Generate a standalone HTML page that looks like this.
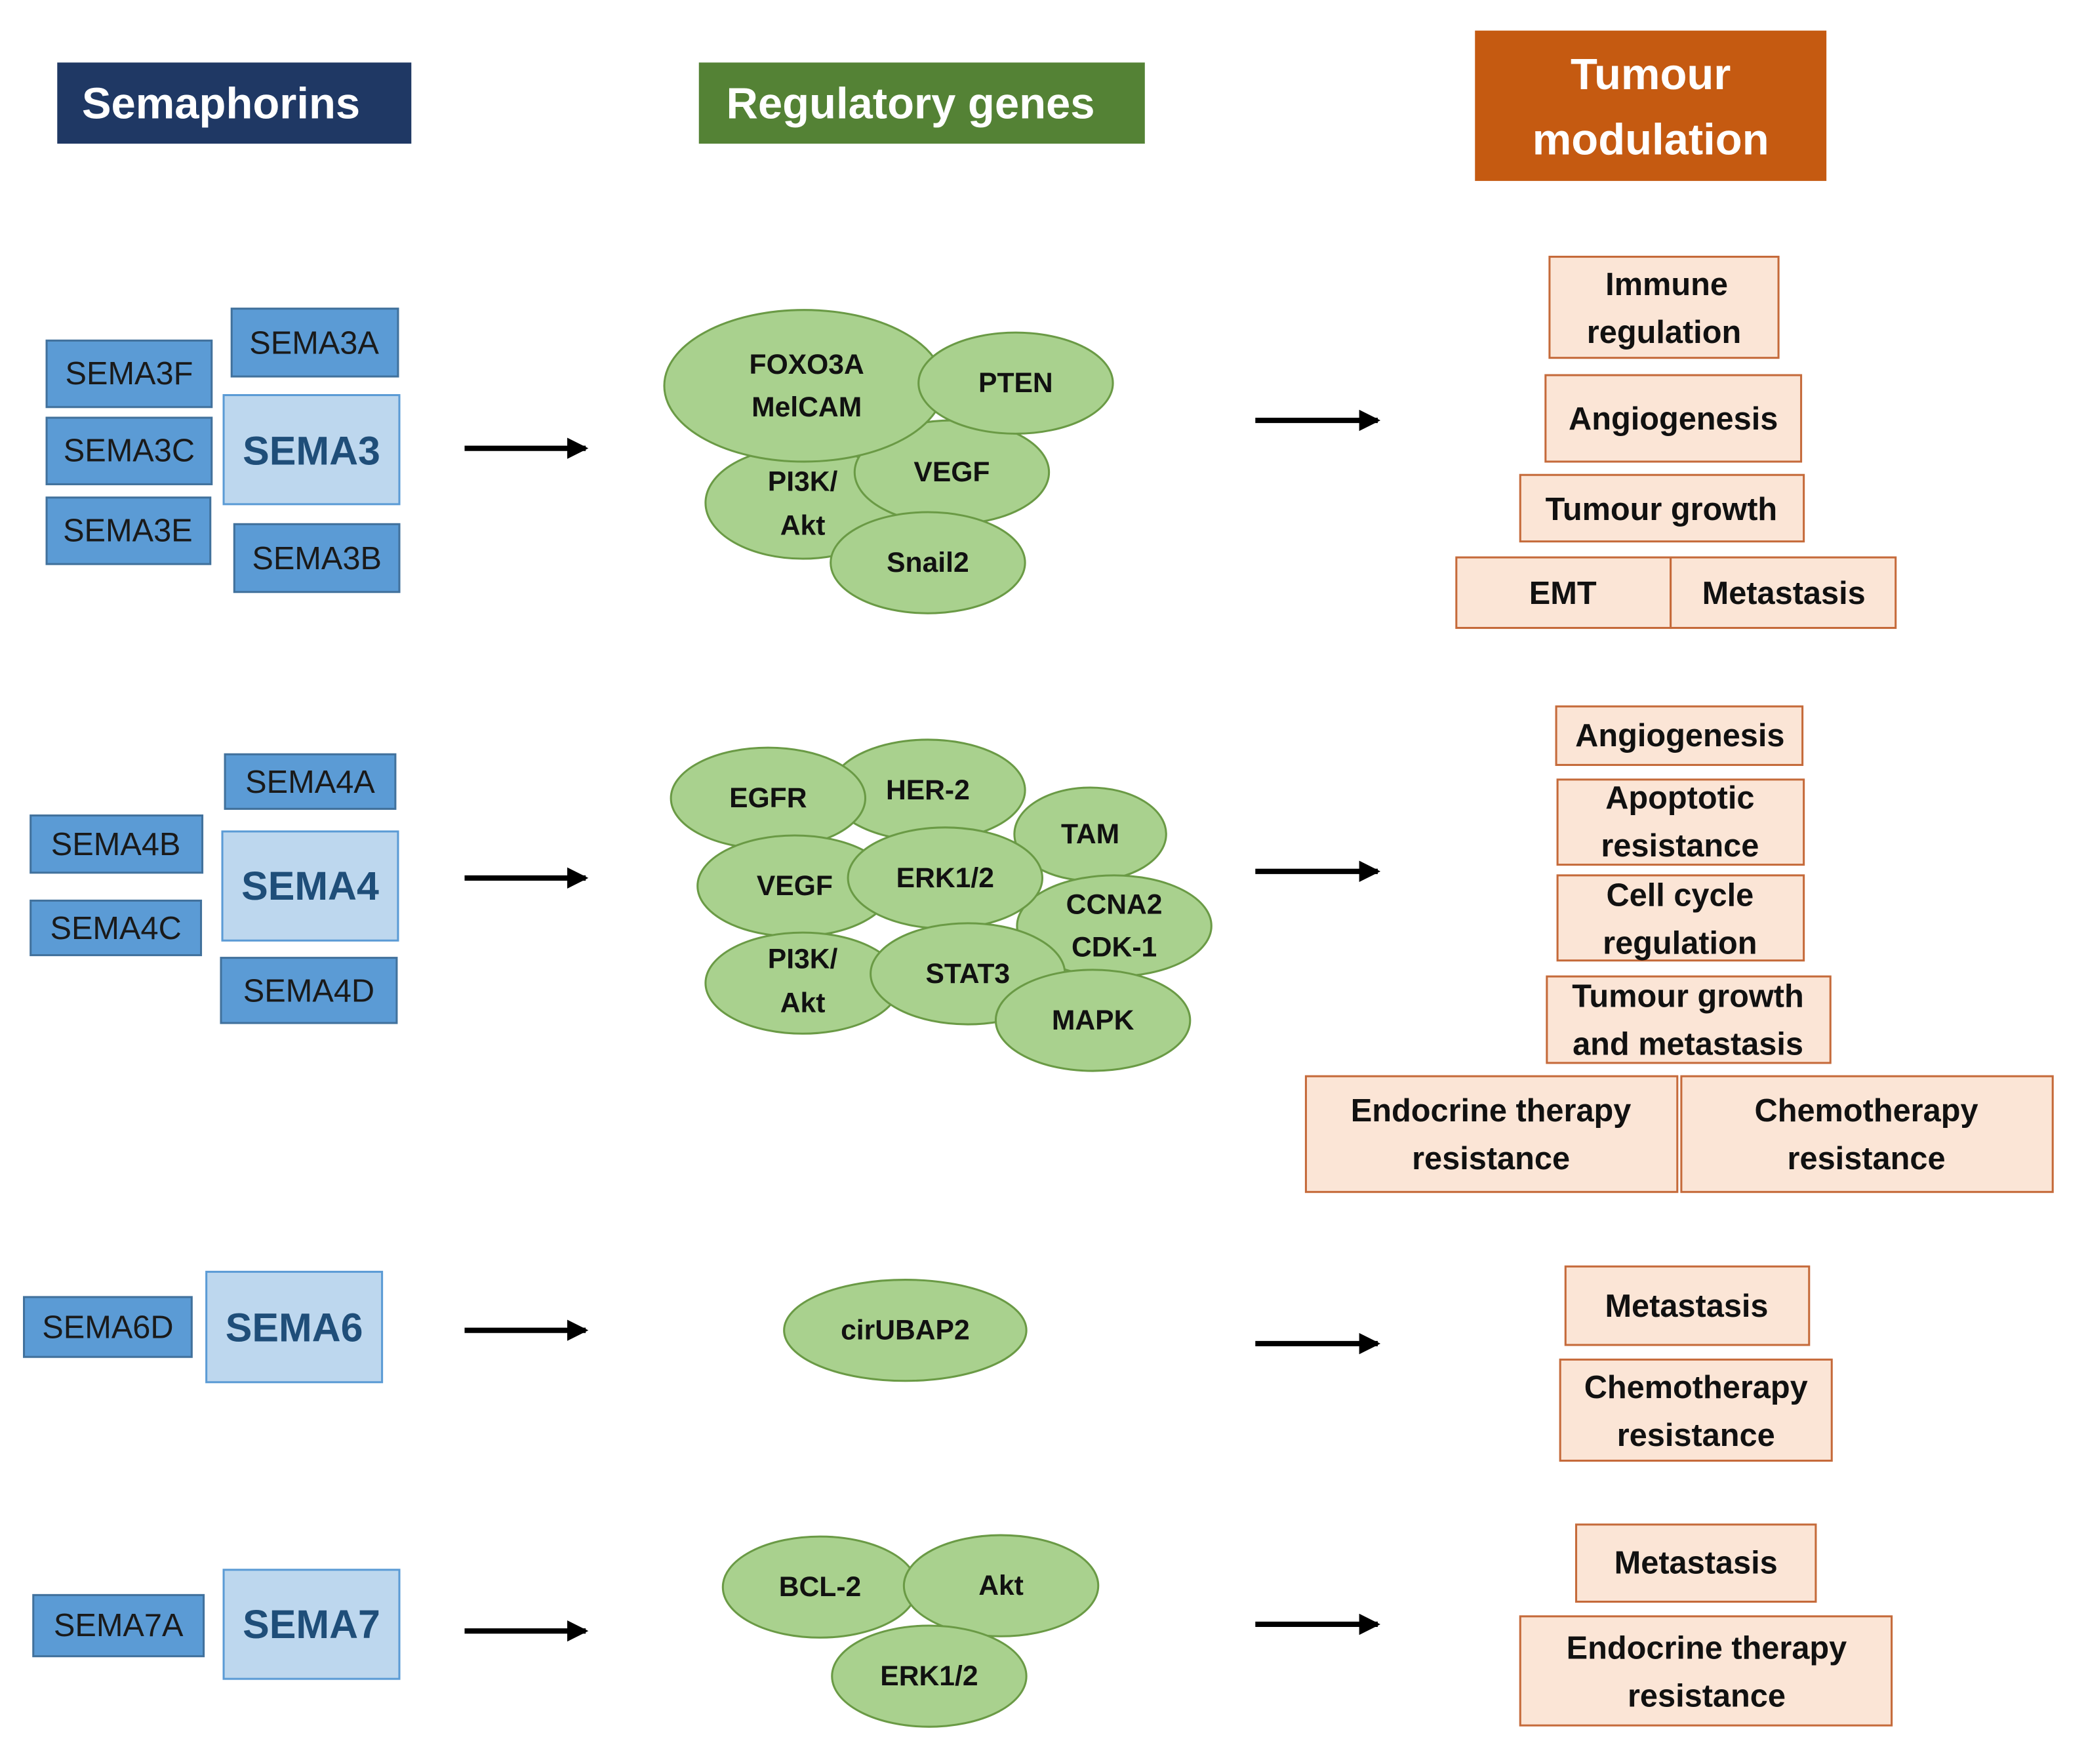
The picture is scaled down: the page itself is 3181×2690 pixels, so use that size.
<!DOCTYPE html>
<html><head><style>html,body{margin:0;padding:0;background:#fff}svg{display:block}
text{font-family:"Liberation Sans",sans-serif;text-anchor:middle;dominant-baseline:central}
.h{fill:#fff;font-weight:bold;font-size:33px}
.b{fill:#5b9bd5;stroke:#41719c;stroke-width:1.5}
.bt{font-size:24px;fill:#1a1a1a}
.L{fill:#bdd7ee;stroke:#5b9bd5;stroke-width:1.5}
.Lt{font-size:30px;fill:#1f4e79;font-weight:bold}
.e{fill:#a9d18e;stroke:#6a9a45;stroke-width:1.5}
.et{font-size:21px;font-weight:bold;fill:#111}
.o{fill:#fbe5d6;stroke:#c56a3a;stroke-width:1.5}
.ot{font-size:24px;font-weight:bold;fill:#111}
</style></head><body>
<svg width="3181" height="2690" viewBox="0 0 1567 1326" preserveAspectRatio="none" xmlns="http://www.w3.org/2000/svg">
<defs><marker id="a" markerWidth="4" markerHeight="4" refX="3.5" refY="2" orient="auto" markerUnits="strokeWidth"><path d="M0,0 L4,2 L0,4 z" fill="#000"/></marker></defs>
<rect x="43" y="47" width="266" height="61" fill="#1f3864"/><text class="h" x="166" y="78">Semaphorins</text>
<rect x="525" y="47" width="335" height="61" fill="#548235"/><text class="h" x="684" y="78">Regulatory genes</text>
<rect x="1108" y="23" width="264" height="113" fill="#c55a11"/><text class="h" x="1240" y="56">Tumour</text><text class="h" x="1240" y="105">modulation</text>

<rect class="b" x="35" y="256" width="124" height="50"/><text class="bt" x="97" y="281">SEMA3F</text>
<rect class="b" x="174" y="232" width="125" height="51"/><text class="bt" x="236" y="258">SEMA3A</text>
<rect class="L" x="168" y="297" width="132" height="82"/><text class="Lt" x="234" y="339">SEMA3</text>
<rect class="b" x="35" y="314" width="124" height="50"/><text class="bt" x="97" y="339">SEMA3C</text>
<rect class="b" x="35" y="374" width="123" height="50"/><text class="bt" x="96" y="399">SEMA3E</text>
<rect class="b" x="176" y="394" width="124" height="51"/><text class="bt" x="238" y="420">SEMA3B</text>

<rect class="b" x="169" y="567" width="128" height="41"/><text class="bt" x="233" y="588">SEMA4A</text>
<rect class="b" x="23" y="613" width="129" height="43"/><text class="bt" x="87" y="635">SEMA4B</text>
<rect class="L" x="167" y="625" width="132" height="82"/><text class="Lt" x="233" y="666">SEMA4</text>
<rect class="b" x="23" y="677" width="128" height="41"/><text class="bt" x="87" y="698">SEMA4C</text>
<rect class="b" x="166" y="720" width="132" height="49"/><text class="bt" x="232" y="745">SEMA4D</text>

<rect class="b" x="18" y="975" width="126" height="45"/><text class="bt" x="81" y="998">SEMA6D</text>
<rect class="L" x="155" y="956" width="132" height="83"/><text class="Lt" x="221" y="998">SEMA6</text>
<rect class="b" x="25" y="1199" width="128" height="46"/><text class="bt" x="89" y="1222">SEMA7A</text>
<rect class="L" x="168" y="1180" width="132" height="82"/><text class="Lt" x="234" y="1221">SEMA7</text>

<g stroke="#000" stroke-width="4" marker-end="url(#a)">
<line x1="349" y1="337" x2="440" y2="337"/><line x1="349" y1="660" x2="440" y2="660"/>
<line x1="349" y1="1000" x2="440" y2="1000"/><line x1="349" y1="1226" x2="440" y2="1226"/>
<line x1="943" y1="316" x2="1035" y2="316"/><line x1="943" y1="655" x2="1035" y2="655"/>
<line x1="943" y1="1010" x2="1035" y2="1010"/><line x1="943" y1="1221" x2="1035" y2="1221"/>
</g>

<ellipse class="e" cx="603" cy="378" rx="73" ry="42"/>
<ellipse class="e" cx="715" cy="355" rx="73" ry="39"/>
<ellipse class="e" cx="604" cy="290" rx="105" ry="57"/>
<ellipse class="e" cx="763" cy="288" rx="73" ry="38"/>
<ellipse class="e" cx="697" cy="423" rx="73" ry="38"/>
<text class="et" x="606" y="274">FOXO3A</text><text class="et" x="606" y="306">MelCAM</text>
<text class="et" x="763" y="288">PTEN</text><text class="et" x="715" y="355">VEGF</text>
<text class="et" x="603" y="362">PI3K/</text><text class="et" x="603" y="395">Akt</text>
<text class="et" x="697" y="423">Snail2</text>

<ellipse class="e" cx="697" cy="594" rx="73" ry="38"/>
<ellipse class="e" cx="577" cy="600" rx="73" ry="38"/>
<ellipse class="e" cx="819" cy="627" rx="57" ry="35"/>
<ellipse class="e" cx="597" cy="666" rx="73" ry="38"/>
<ellipse class="e" cx="837" cy="696" rx="73" ry="38"/>
<ellipse class="e" cx="710" cy="660" rx="73" ry="38"/>
<ellipse class="e" cx="603" cy="739" rx="73" ry="38"/>
<ellipse class="e" cx="727" cy="732" rx="73" ry="38"/>
<ellipse class="e" cx="821" cy="767" rx="73" ry="38"/>
<text class="et" x="577" y="600">EGFR</text><text class="et" x="697" y="594">HER-2</text>
<text class="et" x="819" y="627">TAM</text><text class="et" x="597" y="666">VEGF</text>
<text class="et" x="710" y="660">ERK1/2</text><text class="et" x="837" y="680">CCNA2</text><text class="et" x="837" y="712">CDK-1</text>
<text class="et" x="603" y="721">PI3K/</text><text class="et" x="603" y="754">Akt</text>
<text class="et" x="727" y="732">STAT3</text><text class="et" x="821" y="767">MAPK</text>

<ellipse class="e" cx="680" cy="1000" rx="91" ry="38"/><text class="et" x="680" y="1000">cirUBAP2</text>

<ellipse class="e" cx="616" cy="1193" rx="73" ry="38"/>
<ellipse class="e" cx="752" cy="1192" rx="73" ry="38"/>
<ellipse class="e" cx="698" cy="1260" rx="73" ry="38"/>
<text class="et" x="616" y="1193">BCL-2</text><text class="et" x="752" y="1192">Akt</text><text class="et" x="698" y="1260">ERK1/2</text>

<rect class="o" x="1164" y="193" width="172" height="76"/><text class="ot" x="1252" y="214">Immune</text><text class="ot" x="1250" y="250">regulation</text>
<rect class="o" x="1161" y="282" width="192" height="65"/><text class="ot" x="1257" y="315">Angiogenesis</text>
<rect class="o" x="1142" y="357" width="213" height="50"/><text class="ot" x="1248" y="383">Tumour growth</text>
<rect class="o" x="1094" y="419" width="161" height="53"/><text class="ot" x="1174" y="446">EMT</text>
<rect class="o" x="1255" y="419" width="169" height="53"/><text class="ot" x="1340" y="446">Metastasis</text>

<rect class="o" x="1169" y="531" width="185" height="44"/><text class="ot" x="1262" y="553">Angiogenesis</text>
<rect class="o" x="1170" y="586" width="185" height="64"/><text class="ot" x="1262" y="600">Apoptotic</text><text class="ot" x="1262" y="636">resistance</text>
<rect class="o" x="1170" y="658" width="185" height="64"/><text class="ot" x="1262" y="673">Cell cycle</text><text class="ot" x="1262" y="709">regulation</text>
<rect class="o" x="1162" y="734" width="213" height="65"/><text class="ot" x="1268" y="749">Tumour growth</text><text class="ot" x="1268" y="785">and metastasis</text>
<rect class="o" x="981" y="809" width="279" height="87"/><text class="ot" x="1120" y="835">Endocrine therapy</text><text class="ot" x="1120" y="871">resistance</text>
<rect class="o" x="1263" y="809" width="279" height="87"/><text class="ot" x="1402" y="835">Chemotherapy</text><text class="ot" x="1402" y="871">resistance</text>

<rect class="o" x="1176" y="952" width="183" height="59"/><text class="ot" x="1267" y="982">Metastasis</text>
<rect class="o" x="1172" y="1022" width="204" height="76"/><text class="ot" x="1274" y="1043">Chemotherapy</text><text class="ot" x="1274" y="1079">resistance</text>

<rect class="o" x="1184" y="1146" width="180" height="58"/><text class="ot" x="1274" y="1175">Metastasis</text>
<rect class="o" x="1142" y="1215" width="279" height="82"/><text class="ot" x="1282" y="1239">Endocrine therapy</text><text class="ot" x="1282" y="1275">resistance</text>
</svg>
</body></html>
